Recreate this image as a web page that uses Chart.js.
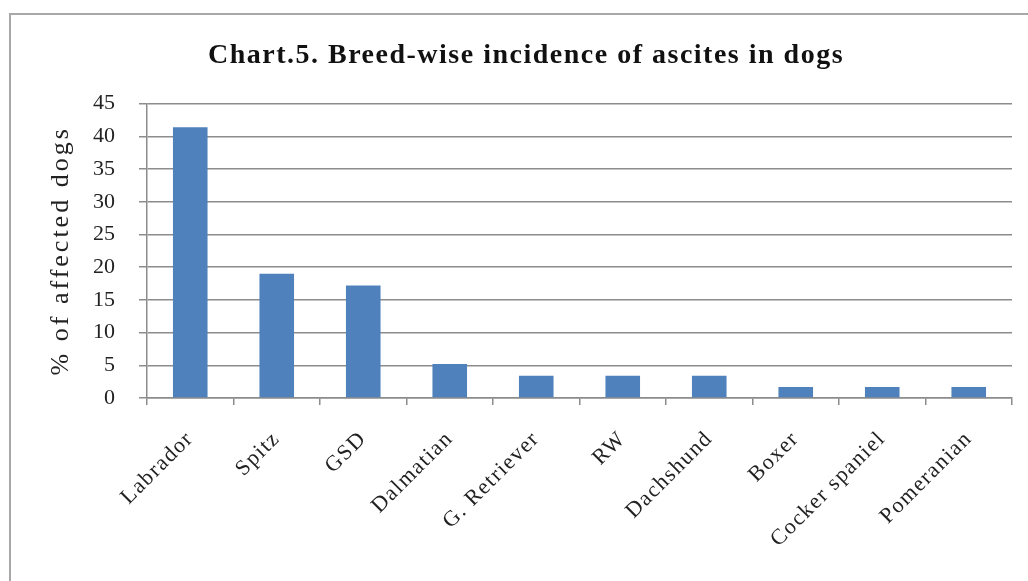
<!DOCTYPE html>
<html>
<head>
<meta charset="utf-8">
<script src="https://cdn.jsdelivr.net/npm/chart.js@4"></script>
<style>
  html, body { margin: 0; padding: 0; background: #fff; }
  #wrap { position: relative; width: 1028px; height: 581px; overflow: hidden; }
  #frame { position: absolute; left: 9px; top: 13px; width: 1040px; height: 600px;
           border-left: 2px solid #a8a8a8; border-top: 2px solid #a8a8a8; box-sizing: border-box; }
  canvas { position: absolute; left: 0; top: 0; }
</style>
</head>
<body>
<div id="wrap">
  <div id="frame"></div>
  <canvas id="c" width="1028" height="581"></canvas>
</div>
<script>
const breeds = ["Labrador", "Spitz", "GSD", "Dalmatian", "G. Retriever", "RW", "Dachshund", "Boxer", "Cocker spaniel", "Pomeranian"];
const percentAffected = [41.4, 19.0, 17.2, 5.2, 3.4, 3.4, 3.4, 1.7, 1.7, 1.7];
const yTicks = [0, 5, 10, 15, 20, 25, 30, 35, 40, 45];
const chartTitle = "Chart.5. Breed-wise incidence of ascites in dogs";
const yAxisTitle = "% of affected dogs";

const serif = "'Liberation Serif', 'Times New Roman', serif";

function withSpacing(obj, method, spacing) {
  const orig = obj[method];
  if (!orig || orig.__spaced) return;
  const f = function (...args) {
    const ctx = this.ctx;
    const prev = ctx.letterSpacing;
    ctx.letterSpacing = spacing;
    try { return orig.apply(this, args); }
    finally { ctx.letterSpacing = prev || '0px'; }
  };
  f.__spaced = true;
  obj[method] = f;
}

const spacingPlugin = {
  id: 'spacing',
  afterLayout(chart) {
    if (chart.titleBlock) withSpacing(chart.titleBlock, 'draw', '1.5px');
    withSpacing(chart.scales.y, 'drawTitle', '3px');
    withSpacing(chart.scales.x, 'drawLabels', '1.5px');
  }
};

new Chart(document.getElementById('c'), {
  type: 'bar',
  data: {
    labels: breeds,
    datasets: [{
      data: percentAffected,
      backgroundColor: '#4f81bd',
      borderWidth: 0,
      barPercentage: 0.4,
      categoryPercentage: 1.0
    }]
  },
  plugins: [spacingPlugin],
  options: {
    responsive: false,
    animation: false,
    devicePixelRatio: 1,
    layout: { padding: { left: 40, right: 16, top: 0, bottom: 0 } },
    plugins: {
      legend: { display: false },
      tooltip: { enabled: false },
      title: {
        display: true,
        text: chartTitle,
        color: '#111',
        font: { family: serif, size: 28, weight: 'bold', lineHeight: 1.2 },
        padding: { top: 39, bottom: 31 }
      }
    },
    scales: {
      x: {
        grid: { display: true, drawOnChartArea: false, drawTicks: true, tickLength: 7, color: '#8c8c8c', lineWidth: 1.5, offset: true },
        border: { display: true, color: '#8c8c8c', width: 1.5 },
        ticks: {
          color: '#222',
          font: { family: serif, size: 22 },
          maxRotation: 45, minRotation: 45,
          autoSkip: false,
          padding: 21
        },
        afterFit: (s) => { s.height = 183; }
      },
      y: {
        min: 0, max: 45,
        afterBuildTicks: (s) => { s.ticks = yTicks.map(v => ({ value: v })); },
        grid: { color: '#8c8c8c', lineWidth: 1.5, tickLength: 8 },
        border: { display: true, color: '#8c8c8c', width: 1.5 },
        ticks: {
          color: '#222',
          font: { family: serif, size: 22 },
          padding: 24
        },
        title: {
          display: true,
          text: yAxisTitle,
          color: '#222',
          font: { family: serif, size: 26 },
          padding: { top: 6, bottom: 0 }
        },
        afterFit: (s) => { s.width = 107; }
      }
    }
  }
});
</script>
</body>
</html>
